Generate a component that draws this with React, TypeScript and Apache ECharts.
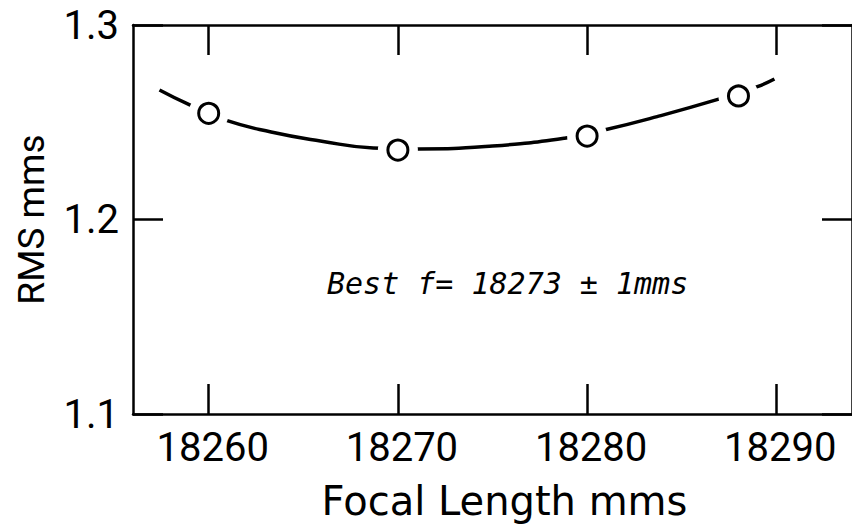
import React, { useEffect, useRef } from 'react';
import * as echarts from 'echarts';

// Measured points (circles)
const pointX = [18260, 18270, 18280, 18288];
const pointY = [1.2546, 1.2357, 1.2429, 1.2635];

// Fitted curve
const curveX = [18257.4, 18259.0, 18260.85, 18263.3, 18265.9, 18268.7, 18271.1, 18275.0, 18278.8, 18280.9, 18283.7, 18287.0, 18289.0, 18289.9];
const curveY = [1.2666, 1.2589, 1.2512, 1.245, 1.2404, 1.2368, 1.2363, 1.2378, 1.2418, 1.246, 1.2529, 1.262, 1.2683, 1.2722];

const xTicks = [18260, 18270, 18280, 18290];
const yTicks = [1.1, 1.2, 1.3];

const xName = 'Focal Length mms';
const yName = 'RMS mms';
const note = 'Best f= 18273 ± 1mms';

const FONT = 'Roboto, "Noto Sans", sans-serif';
const NAMEFONT = '"DejaVu Sans", sans-serif';

export default function App() {
  const ref = useRef<HTMLDivElement>(null);
  useEffect(() => {
    if (!ref.current) return;
    const chart = echarts.init(ref.current, undefined, { renderer: 'svg' });
    const line = { show: true, lineStyle: { color: '#000', width: 2.5 } };
    const xTick = { show: true, inside: true, length: 30, customValues: xTicks, lineStyle: { color: '#000', width: 2.5 } };
    const yTick = { show: true, inside: true, length: 30, customValues: yTicks, lineStyle: { color: '#000', width: 2.5 } };
    chart.setOption({
      animation: false,
      backgroundColor: '#fff',
      grid: { left: 133, right: -9, top: 25, bottom: 117, containLabel: false },
      xAxis: [
        {
          type: 'value', min: 18256, max: 18294, position: 'bottom',
          axisLine: line, axisTick: xTick, splitLine: { show: false },
          axisLabel: { customValues: xTicks, fontSize: 40, fontFamily: FONT, color: '#000', margin: 13, padding: [0, 0, 0, 8], formatter: (v: number) => String(v) },
          name: xName, nameLocation: 'middle', nameGap: 67,
          nameTextStyle: { fontSize: 40, fontFamily: NAMEFONT, color: '#000', padding: [0, 0, 0, 24] },
        },
        {
          type: 'value', min: 18256, max: 18294, position: 'top',
          axisLine: line, axisTick: xTick, splitLine: { show: false }, axisLabel: { show: false },
        },
      ],
      yAxis: [
        {
          type: 'value', min: 1.1, max: 1.3, position: 'left',
          axisLine: line, axisTick: yTick, splitLine: { show: false },
          axisLabel: { customValues: yTicks, fontSize: 40, fontFamily: FONT, color: '#000', margin: 14, formatter: (v: number) => v.toFixed(1) },
          name: yName, nameLocation: 'middle', nameGap: 83, nameRotate: 90,
          nameTextStyle: { fontSize: 37, fontFamily: FONT, color: '#000' },
        },
        {
          type: 'value', min: 1.1, max: 1.3, position: 'right',
          axisLine: line, axisTick: yTick, splitLine: { show: false }, axisLabel: { show: false },
        },
      ],
      series: [
        {
          type: 'line', smooth: true, symbol: 'none', z: 2,
          data: curveX.map((x, i) => [x, curveY[i]]),
          lineStyle: { color: '#000', width: 3.5 },
        },
        {
          type: 'scatter', symbol: 'circle', symbolSize: 40, z: 3,
          data: pointX.map((x, i) => [x, pointY[i]]),
          itemStyle: { color: '#fff', opacity: 1 },
          emphasis: { disabled: true },
        },
        {
          type: 'scatter', symbol: 'circle', symbolSize: 20, z: 4,
          data: pointX.map((x, i) => [x, pointY[i]]),
          itemStyle: { color: '#fff', borderColor: '#000', borderWidth: 3, opacity: 1 },
          emphasis: { disabled: true },
        },
      ],
      graphic: [
        {
          type: 'text', left: 327, top: 268,
          style: { text: note, fontSize: 30, fontFamily: '"DejaVu Sans Mono", monospace', fontStyle: 'italic', fill: '#000' },
        },
      ],
    });
    return () => chart.dispose();
  }, []);
  return <div ref={ref} style={{ position: 'fixed', left: 0, top: 0, width: 852, height: 531 }} />;
}
